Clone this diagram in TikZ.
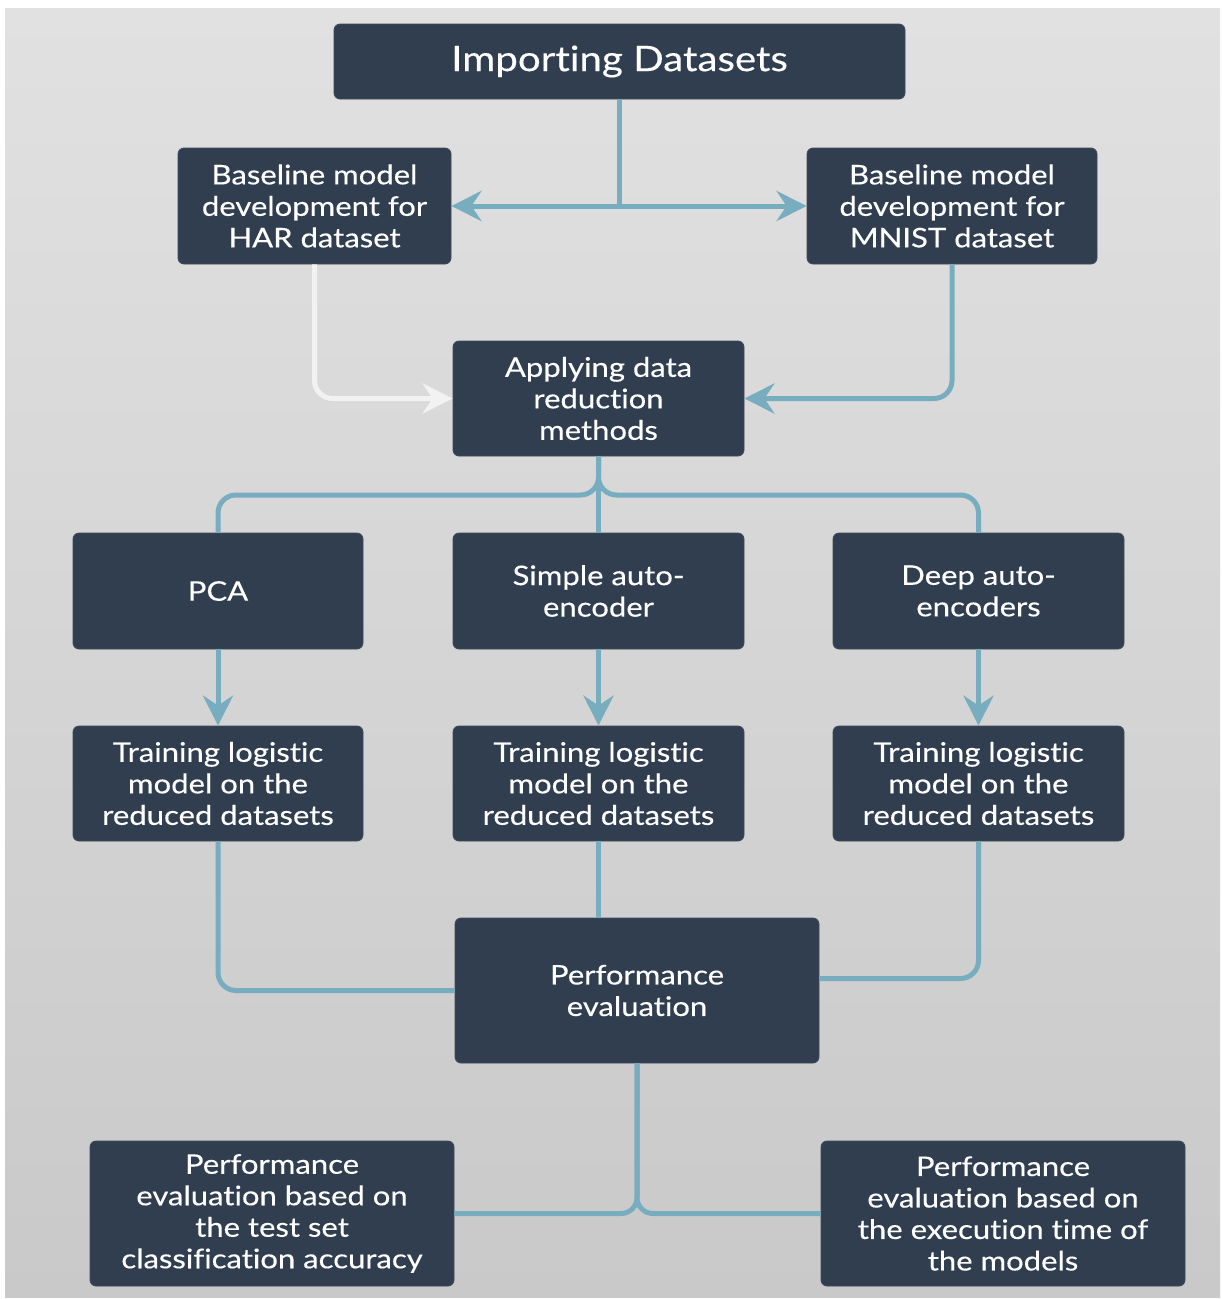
\documentclass[tikz,border=0pt]{standalone}
\usepackage{fontspec}
\setmainfont{Lato}[FakeStretch=1.15,FakeBold=0.3,Ligatures={NoCommon,NoRare}]
\usetikzlibrary{arrows.meta,calc}
\definecolor{boxfill}{HTML}{303E50}
\definecolor{teal}{HTML}{78ACBF}
\definecolor{bgtop}{HTML}{E1E1E1}
\definecolor{bgbot}{HTML}{C9C9C9}
\definecolor{pale}{HTML}{F2F2F2}
\begin{document}
\begin{tikzpicture}[x=1pt,y=-1pt,
  box/.style={fill=boxfill,draw=boxfill!80!gray,line width=0.8pt,rounded corners=6pt,text=white,align=center,inner sep=0pt,font=\fontsize{27}{31.5}\selectfont},
  conn/.style={draw=teal,line width=5pt,rounded corners=18pt},
  tip/.style={-{Stealth[length=30pt,width=30pt,inset=10pt]}}]
\useasboundingbox (0,0) rectangle (1222,1299);
\fill[white] (0,0) rectangle (1222,1299);
\shade[top color=bgtop,bottom color=bgbot] (5,8) rectangle (1220,1297);

\node[box,minimum width=571pt,minimum height=75pt,font=\fontsize{35}{40}\selectfont] (imp) at (619.5,61.5) {Importing Datasets};
\node[box,minimum width=273pt,minimum height=116pt] (har) at (314.5,206) {Baseline model\\development for\\HAR dataset};
\node[box,minimum width=290pt,minimum height=116pt] (mn) at (952,206) {Baseline model\\development for\\MNIST dataset};
\node[box,minimum width=291pt,minimum height=115pt] (app) at (598.5,398.5) {Applying data\\reduction\\methods};
\node[box,minimum width=290pt,minimum height=116pt] (pca) at (218,591) {PCA};
\node[box,minimum width=291pt,minimum height=116pt] (sim) at (598.5,591) {Simple auto-\\encoder};
\node[box,minimum width=291pt,minimum height=116pt] (deep) at (978.5,591) {Deep auto-\\encoders};
\node[box,minimum width=290pt,minimum height=115pt] (tr1) at (218,783.5) {Training logistic\\model on the\\reduced datasets};
\node[box,minimum width=291pt,minimum height=115pt] (tr2) at (598.5,783.5) {Training logistic\\model on the\\reduced datasets};
\node[box,minimum width=291pt,minimum height=115pt] (tr3) at (978.5,783.5) {Training logistic\\model on the\\reduced datasets};
\node[box,minimum width=364pt,minimum height=145pt] (perf) at (637,990.5) {Performance\\evaluation};
\node[box,minimum width=364pt,minimum height=145pt] (bl) at (272,1213.5) {Performance\\evaluation based on\\the test set\\classification accuracy};
\node[box,minimum width=364pt,minimum height=145pt] (br) at (1003,1213.5) {Performance\\evaluation based on\\the execution time of\\the models};

\coordinate (j1) at (imp.south |- har.east);
\draw[conn,rounded corners=0pt] (imp.south) -- (j1);
\draw[conn,tip] (j1) -- (har.east);
\draw[conn,tip] (j1) -- (mn.west);

\draw[conn,draw=pale,tip] (har.south) |- (app.west);
\draw[conn,tip] (mn.south) |- (app.east);

\coordinate (b1) at (598.5,495);
\draw[conn] (app.south) -- (sim.north);
\draw[conn] (app.south) -- (app.south |- b1) -- (pca.north |- b1) -- (pca.north);
\draw[conn] (app.south) -- (app.south |- b1) -- (deep.north |- b1) -- (deep.north);

\draw[conn,tip] (pca.south) -- (tr1.north);
\draw[conn,tip] (sim.south) -- (tr2.north);
\draw[conn,tip] (deep.south) -- (tr3.north);

\draw[conn] (tr1.south) |- (perf.west);
\draw[conn] (tr2.south) -- (tr2.south |- perf.north);
\draw[conn] (tr3.south) |- ($(perf.east)+(0,-12)$);

\draw[conn,rounded corners=16pt] (perf.south) |- (bl.east);
\draw[conn,rounded corners=16pt] (perf.south) |- (br.west);
\end{tikzpicture}
\end{document}
